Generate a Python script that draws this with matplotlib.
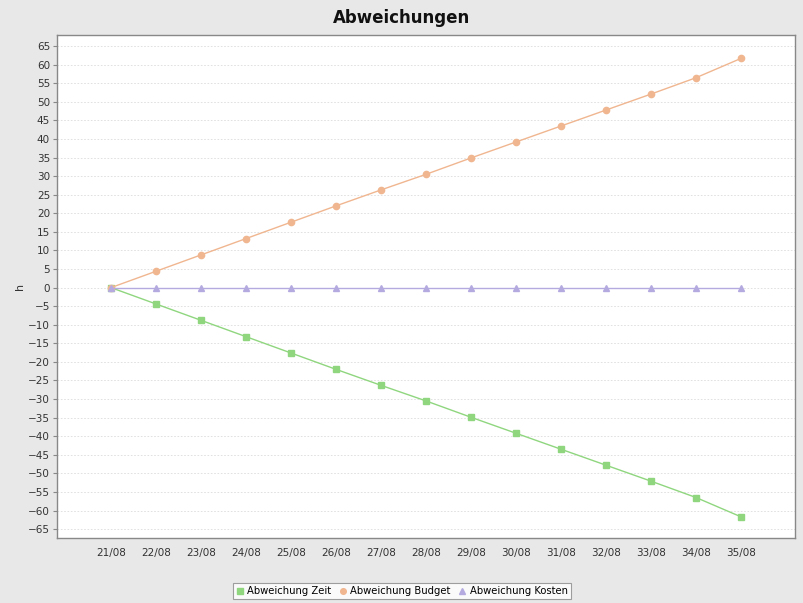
import matplotlib
matplotlib.use('Agg')
import matplotlib.pyplot as plt

# ── Daten ─────────────────────────────────────────────────────────────────────
wochen = ['21/08', '22/08', '23/08', '24/08', '25/08', '26/08', '27/08', '28/08',
          '29/08', '30/08', '31/08', '32/08', '33/08', '34/08', '35/08']
abw_zeit = [0, -4.4, -8.8, -13.2, -17.6, -22.0, -26.3, -30.5,
            -34.9, -39.2, -43.5, -47.8, -52.1, -56.5, -61.7]
abw_budget = [0, 4.4, 8.8, 13.2, 17.6, 22.0, 26.3, 30.5,
              34.9, 39.2, 43.5, 47.8, 52.1, 56.5, 61.7]
abw_kosten = [0] * len(wochen)
y_ticks = list(range(-65, 70, 5))

BG = '#e8e8e8'
C_ZEIT = '#8fd67f'
C_BUDGET = '#f0b690'
C_KOSTEN = '#b4aae0'

fig = plt.figure(figsize=(8.04, 6.03), dpi=100, facecolor=BG)
ax = fig.add_axes([57 / 804, 1 - 538 / 603, 738 / 804, 503 / 603])
ax.set_facecolor('white')

x = range(len(wochen))
ax.plot(x, abw_zeit, color=C_ZEIT, lw=1, marker='s', ms=4.5, label='Abweichung Zeit')
ax.plot(x, abw_budget, color=C_BUDGET, lw=1, marker='o', ms=4.5, label='Abweichung Budget')
ax.plot(x, abw_kosten, color=C_KOSTEN, lw=1, marker='^', ms=4.5, label='Abweichung Kosten')

ax.set_xlim(-1.2, len(wochen) - 1 + 1.2)
ax.set_ylim(-67.4, 68)
ax.set_xticks(list(x))
ax.set_xticklabels(wochen)
ax.set_yticks(y_ticks)
ax.yaxis.grid(True, color='#dcdcdc', linestyle=(0, (2, 2)), linewidth=0.6)
ax.set_axisbelow(True)

for s in ax.spines.values():
    s.set_color('#888888')
    s.set_linewidth(1)
ax.tick_params(axis='x', length=0, pad=7, labelsize=7.5, colors='#333333')
ax.tick_params(axis='y', length=3, width=0.8, color='#888888', pad=2,
               labelsize=7.5, labelcolor='#333333')

ax.set_ylabel('h', fontsize=8, color='#333333', labelpad=2)
fig.text(0.5, 1 - 18 / 603, 'Abweichungen', ha='center', va='center',
         fontsize=12, fontweight='bold', color='#111111')

leg = fig.legend(loc='center', bbox_to_anchor=(0.5, 1 - 591 / 603), ncol=3,
                 fontsize=7.2, frameon=True, fancybox=False, handlelength=0.7,
                 handletextpad=0.4, columnspacing=0.8, borderpad=0.3,
                 markerscale=0.9)
leg.get_frame().set_edgecolor('#888888')
leg.get_frame().set_linewidth(0.8)
for h in leg.legend_handles:
    h.set_linestyle('none')

fig.savefig('out.png', dpi=100, facecolor=BG)
